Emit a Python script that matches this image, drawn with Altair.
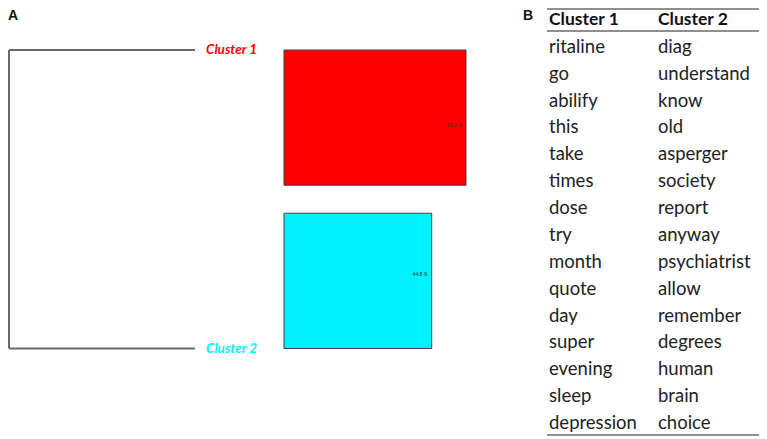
import altair as alt
import pandas as pd

# ---- data ----
clusters = ["Cluster 1", "Cluster 2"]
shares = [55.2, 44.8]
cluster_colors = ["#ff0000", "#00f2ff"]
leaf_pos = [0, 1]
merge_height = 1.0

header = ["Cluster 1", "Cluster 2"]
words_c1 = ["ritaline", "go", "abilify", "this", "take", "times", "dose", "try",
            "month", "quote", "day", "super", "evening", "sleep", "depression"]
words_c2 = ["diag", "understand", "know", "old", "asperger", "society", "report",
            "anyway", "psychiatrist", "allow", "remember", "degrees", "human",
            "brain", "choice"]
panel_letters = ["A", "B"]

FONT = "Lato"
W, H = 751, 431

# ---- tables built from the arrays ----
dend = pd.DataFrame({
    "cluster": clusters,
    "leaf": leaf_pos,
    "h_leaf": [0.0, 0.0],
    "h_merge": [merge_height, merge_height],
})
dend_v = pd.DataFrame({"h": [merge_height], "y0": [min(leaf_pos)], "y1": [max(leaf_pos)]})

boxes = pd.DataFrame({
    "cluster": clusters,
    "share": shares,
    "label": [f"{s:.1f} %" for s in shares],
})

head_df = pd.DataFrame({"col": [0, 1], "row": [0, 0], "word": header})
body_rows = []
for i, (a, b) in enumerate(zip(words_c1, words_c2)):
    body_rows.append({"col": 0, "row": i + 1, "word": a})
    body_rows.append({"col": 1, "row": i + 1, "word": b})
body_df = pd.DataFrame(body_rows)

# ---- scales ----
h_scale = alt.Scale(domain=[0, 1], range=[187, 1])
leaf_scale = alt.Scale(domain=[0, 1], range=[42, 340.5])
color_scale = alt.Scale(domain=clusters, range=cluster_colors)
share_scale = alt.Scale(domain=[0, 100], range=[276, 605.7])
band_scale = alt.Scale(domain=clusters, range=[42, 340.5], paddingInner=0.1715, paddingOuter=0)
col_scale = alt.Scale(domain=[0, 1], range=[541, 650])
row_scale = alt.Scale(domain=[0, 15], range=[12, 415])

# ---- panel A ----
dend_h = alt.Chart(dend).mark_rule(color="#6a6a6a", strokeWidth=2).encode(
    x=alt.X("h_merge:Q", scale=h_scale, axis=None),
    x2="h_leaf:Q",
    y=alt.Y("leaf:Q", scale=leaf_scale, axis=None),
)
dend_vert = alt.Chart(dend_v).mark_rule(color="#6a6a6a", strokeWidth=2).encode(
    x=alt.X("h:Q", scale=h_scale, axis=None),
    y=alt.Y("y0:Q", scale=leaf_scale, axis=None),
    y2="y1:Q",
)
dend_lab = alt.Chart(dend).mark_text(
    align="left", baseline="middle", dx=11, font=FONT, fontSize=13.5,
    fontStyle="italic", fontWeight="bold",
).encode(
    x=alt.X("h_leaf:Q", scale=h_scale, axis=None),
    y=alt.Y("leaf:Q", scale=leaf_scale, axis=None),
    text="cluster:N",
    color=alt.Color("cluster:N", scale=color_scale, legend=None),
)
bars = alt.Chart(boxes).mark_bar(stroke="#404040", strokeWidth=1, opacity=1).encode(
    x=alt.X("share:Q", scale=share_scale, axis=None),
    y=alt.Y("cluster:N", scale=band_scale, axis=None),
    color=alt.Color("cluster:N", scale=color_scale, legend=None),
)
bar_lab = alt.Chart(boxes).mark_text(
    align="right", baseline="middle", dx=-4, font=FONT, fontSize=5, color="#333333",
).encode(
    x=alt.X("share:Q", scale=share_scale, axis=None),
    y=alt.Y("cluster:N", scale=band_scale, axis=None),
    text="label:N",
)

# ---- panel B ----
head_txt = alt.Chart(head_df).mark_text(
    align="left", baseline="middle", font=FONT, fontSize=17.5, fontWeight="bold", color="#111111",
).encode(
    x=alt.X("col:Q", scale=col_scale, axis=None),
    y=alt.Y("row:Q", scale=row_scale, axis=None),
    text="word:N",
)
body_txt = alt.Chart(body_df).mark_text(
    align="left", baseline="middle", font=FONT, fontSize=18.5, color="#222222",
).encode(
    x=alt.X("col:Q", scale=col_scale, axis=None),
    y=alt.Y("row:Q", scale=row_scale, axis=None),
    text="word:N",
)

rule_df = pd.DataFrame({"k": [0]})
def hrule(ypix):
    return alt.Chart(rule_df).mark_rule(color="#6a6a6a", strokeWidth=1.5).encode(
        x=alt.value(539), x2=alt.value(757), y=alt.value(ypix)
    )

def letter(i, xpix):
    return alt.Chart(rule_df).mark_text(
        text=panel_letters[i], align="left", baseline="alphabetic",
        font="Liberation Sans", fontSize=14, fontWeight="bold", color="#111111",
    ).encode(x=alt.value(xpix), y=alt.value(12))

chart = alt.layer(
    dend_h, dend_vert, dend_lab, bars, bar_lab,
    hrule(1), hrule(23), hrule(427),
    head_txt, body_txt, letter(0, 0), letter(1, 515),
).resolve_scale(
    x="independent", y="independent", color="independent"
).properties(
    width=W, height=H, autosize=alt.AutoSizeParams(type="none"), padding=0,
).configure_view(stroke=None)

chart.save("out.html", embed_options={"renderer": "svg", "actions": False})
